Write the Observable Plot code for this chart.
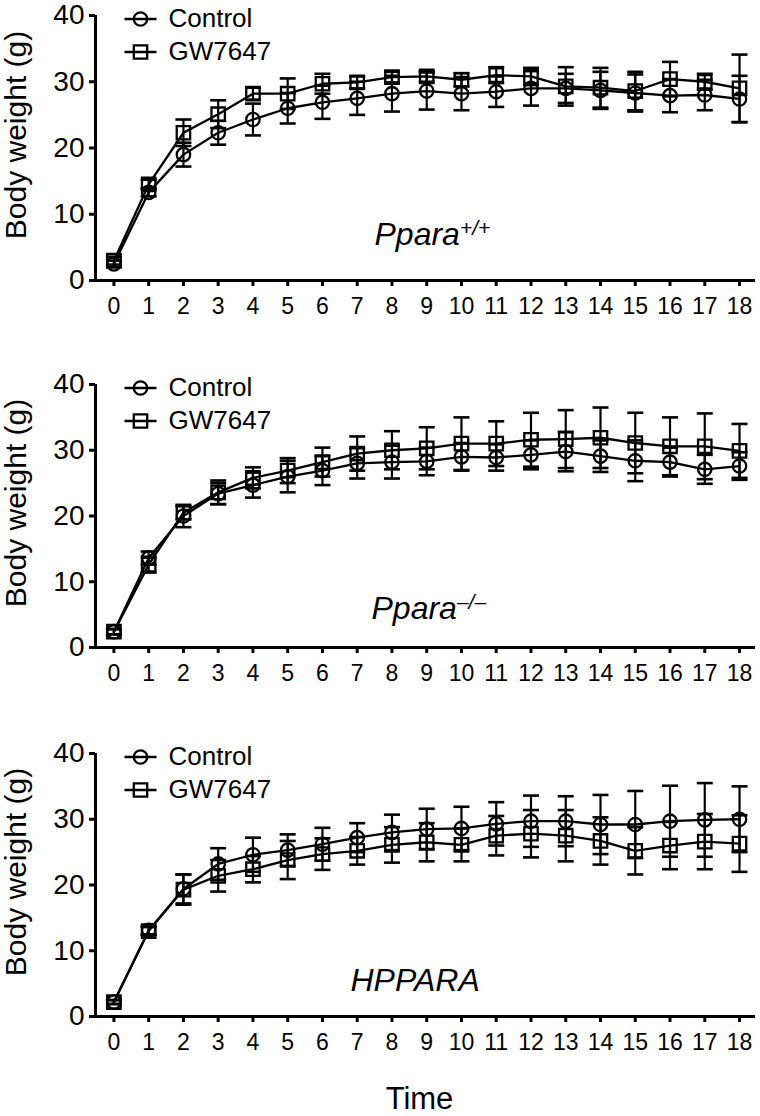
<!DOCTYPE html>
<html><head><meta charset="utf-8">
<script src="https://cdn.jsdelivr.net/npm/d3@7"></script>
<script src="https://cdn.jsdelivr.net/npm/@observablehq/plot@0.6"></script>
<style>
body{margin:0;background:#fff;}
#chart{position:relative;width:760px;height:1116px;}
#chart svg{position:absolute;left:0;}
</style></head><body><div id="chart"></div>
<script>
// ---- data ----
const time = [0,1,2,3,4,5,6,7,8,9,10,11,12,13,14,15,16,17,18];
const seriesNames = ["Control", "GW7647"];
const yTicks = [0, 10, 20, 30, 40];
const xTicks = time;
const panelNames = ["Ppara", "Ppara", "HPPARA"];
const panelSup = ["+/+", "\u2013/\u2013", ""];
const yLabel = "Body weight (g)";
const xLabel = "Time";

// Ppara+/+
const wtControlMean = [2.5,13.3,19.0,22.3,24.3,26.0,26.9,27.5,28.2,28.6,28.2,28.5,29.0,29.0,28.7,28.3,27.9,28.0,27.4];
const wtControlSD   = [0.5,0.6,1.8,1.8,2.4,2.3,2.5,2.5,2.7,2.8,2.5,2.3,2.6,2.2,2.8,2.8,2.5,2.3,3.5];
const wtGWMean      = [3.0,14.5,22.3,25.1,28.2,28.2,29.7,29.9,30.7,30.8,30.3,31.0,30.8,29.3,29.1,28.6,30.4,30.0,29.0];
const wtGWSD        = [0.6,0.7,2.0,2.1,0.9,2.3,1.5,0.9,0.8,0.8,1.0,1.2,1.3,2.9,3.0,2.9,2.6,1.2,5.1];
// Ppara-/-
const koControlMean = [2.4,13.6,20.0,23.4,24.7,26.0,26.9,28.0,28.2,28.3,29.0,28.9,29.3,29.8,29.1,28.4,28.2,27.1,27.6];
const koControlSD   = [0.4,1.0,1.7,1.6,1.9,2.4,2.2,2.3,2.5,2.1,2.1,2.0,2.2,3.0,2.4,3.1,2.2,2.2,2.1];
const koGWMean      = [2.4,12.6,20.5,23.6,25.8,26.9,28.2,29.5,30.0,30.3,31.0,31.0,31.6,31.7,31.9,31.1,30.6,30.6,29.9];
const koGWSD        = [0.4,1.2,1.0,1.8,1.6,1.9,2.2,2.6,2.9,3.2,4.0,3.4,4.1,4.4,4.6,4.6,4.4,5.0,4.1];
// HPPARA
const huControlMean = [2.2,13.1,19.4,23.2,24.6,25.3,26.2,27.2,28.0,28.5,28.6,29.3,29.7,29.7,29.2,29.2,29.7,29.9,30.0];
const huControlSD   = [0.3,0.6,2.2,2.4,2.6,2.4,2.5,2.2,2.7,3.1,3.3,3.3,3.9,3.8,4.5,5.1,5.4,5.6,5.0];
const huGWMean      = [2.2,13.0,19.3,21.4,22.4,23.8,24.7,25.2,26.1,26.5,26.1,27.5,27.8,27.5,26.7,25.2,26.0,26.6,26.3];
const huGWSD        = [0.3,0.6,2.3,2.4,2.0,2.9,2.4,2.1,2.7,2.9,2.5,3.0,3.6,3.9,3.6,3.6,3.6,4.2,4.3];

const panelData = [
  [[wtControlMean, wtControlSD], [wtGWMean, wtGWSD]],
  [[koControlMean, koControlSD], [koGWMean, koGWSD]],
  [[huControlMean, huControlSD], [huGWMean, huGWSD]]
];

// ---- symbols ----
const rad = s => Math.sqrt(s / Math.PI);
const symCircle = {draw(c, s) { const r = rad(s); c.moveTo(r, 0); c.arc(0, 0, r, 0, 2 * Math.PI); c.closePath(); }};
const symSquare = {draw(c, s) { const r = rad(s); c.rect(-r, -r, 2 * r, 2 * r); }};
const symCap = {draw(c, s) { const r = rad(s); c.moveTo(-r, 0); c.lineTo(r, 0); }};
const legCircle = {draw(c, s) { const r = rad(s); c.moveTo(-16, 0); c.lineTo(16, 0); c.moveTo(r, 0); c.arc(0, 0, r, 0, 2 * Math.PI); c.closePath(); }};
const legSquare = {draw(c, s) { const r = rad(s); c.moveTo(-16, 0); c.lineTo(16, 0); c.rect(-r, -r, 2 * r, 2 * r); }};
const dataSyms = [symCircle, symSquare];
const legSyms = [legCircle, legSquare];

const FONT = "'Liberation Sans', Arial, Helvetica, sans-serif";
const xDomain = [-0.53, 18.46];

const layouts = [
  {top: 0,   plotH: 265, mb: 50,  labelDx: 279, labelDy: -36},
  {top: 369, plotH: 263, mb: 50,  labelDx: 276, labelDy: -29},
  {top: 738, plotH: 263, mb: 100, labelDx: 255, labelDy: -26}
];

const chart = document.getElementById("chart");

layouts.forEach((L, k) => {
  const rows = [];
  panelData[k].forEach(([m, s], j) => {
    time.forEach((t, i) => rows.push({t, series: seriesNames[j], mean: m[i], sd: s[i]}));
  });
  const marks = [
    Plot.ruleY([0], {strokeWidth: 3}),
    Plot.ruleX([xDomain[0]], {strokeWidth: 3}),
    Plot.axisY({ticks: yTicks, tickSize: 6, tickPadding: 5, fontSize: 28, strokeWidth: 3, label: null}),
    Plot.axisX({ticks: xTicks, tickSize: 6, tickPadding: 11, fontSize: 23, strokeWidth: 3, label: null}),
    Plot.ruleX(rows, {x: "t", y1: d => d.mean - d.sd, y2: d => d.mean + d.sd, strokeWidth: 2.2}),
    Plot.dot(rows, {x: "t", y: d => d.mean - d.sd, symbol: symCap, r: 8, fill: "none", stroke: "black", strokeWidth: 2.6}),
    Plot.dot(rows, {x: "t", y: d => d.mean + d.sd, symbol: symCap, r: 8, fill: "none", stroke: "black", strokeWidth: 2.6}),
    Plot.line(rows, {x: "t", y: "mean", z: "series", stroke: "black", strokeWidth: 2.3})
  ];
  seriesNames.forEach((name, j) => {
    marks.push(Plot.dot(rows.filter(d => d.series === name), {x: "t", y: "mean", symbol: dataSyms[j], r: 6.7, fill: "none", stroke: "black", strokeWidth: 2.3}));
    const ldy = 3.5 + j * 33;
    marks.push(Plot.dot([name], {frameAnchor: "top-left", dx: 45, dy: ldy, symbol: legSyms[j], r: 6.7, fill: "none", stroke: "black", strokeWidth: 2.3}));
    marks.push(Plot.text([name], {text: d => d, frameAnchor: "top-left", dx: 73, dy: ldy, textAnchor: "start", lineAnchor: "middle", fontSize: 26, fill: "black"}));
  });
  marks.push(Plot.text([panelNames[k]], {text: d => d, frameAnchor: "bottom-left", dx: L.labelDx, dy: L.labelDy, textAnchor: "start", lineAnchor: "bottom", fontSize: 32, fontStyle: "italic", fill: "black"}));
  marks.push(Plot.text([yLabel], {text: d => d, frameAnchor: "left", rotate: -90, dx: -70, dy: -13, textAnchor: "middle", lineAnchor: "bottom", fontSize: 30, fill: "black"}));
  if (k === 2) {
    marks.push(Plot.text([xLabel], {text: d => d, frameAnchor: "bottom", dx: -6, dy: 92, textAnchor: "middle", lineAnchor: "bottom", fontSize: 31, fill: "black"}));
  }
  const svg = Plot.plot({
    width: 760,
    height: 15 + L.plotH + L.mb,
    marginTop: 15,
    marginBottom: L.mb,
    marginLeft: 95,
    marginRight: 5,
    x: {domain: xDomain},
    y: {domain: [0, 40]},
    style: {fontFamily: FONT, color: "black", background: "transparent", overflow: "visible"},
    marks
  });
  svg.style.top = L.top + "px";
  if (panelSup[k]) {
    svg.querySelectorAll("text").forEach(t => {
      if (t.textContent === panelNames[k]) {
        const ts = document.createElementNS("http://www.w3.org/2000/svg", "tspan");
        ts.setAttribute("font-size", "21");
        ts.setAttribute("dy", "-10");
        ts.textContent = panelSup[k];
        t.appendChild(ts);
      }
    });
  }
  chart.appendChild(svg);
});
</script>
</body></html>
